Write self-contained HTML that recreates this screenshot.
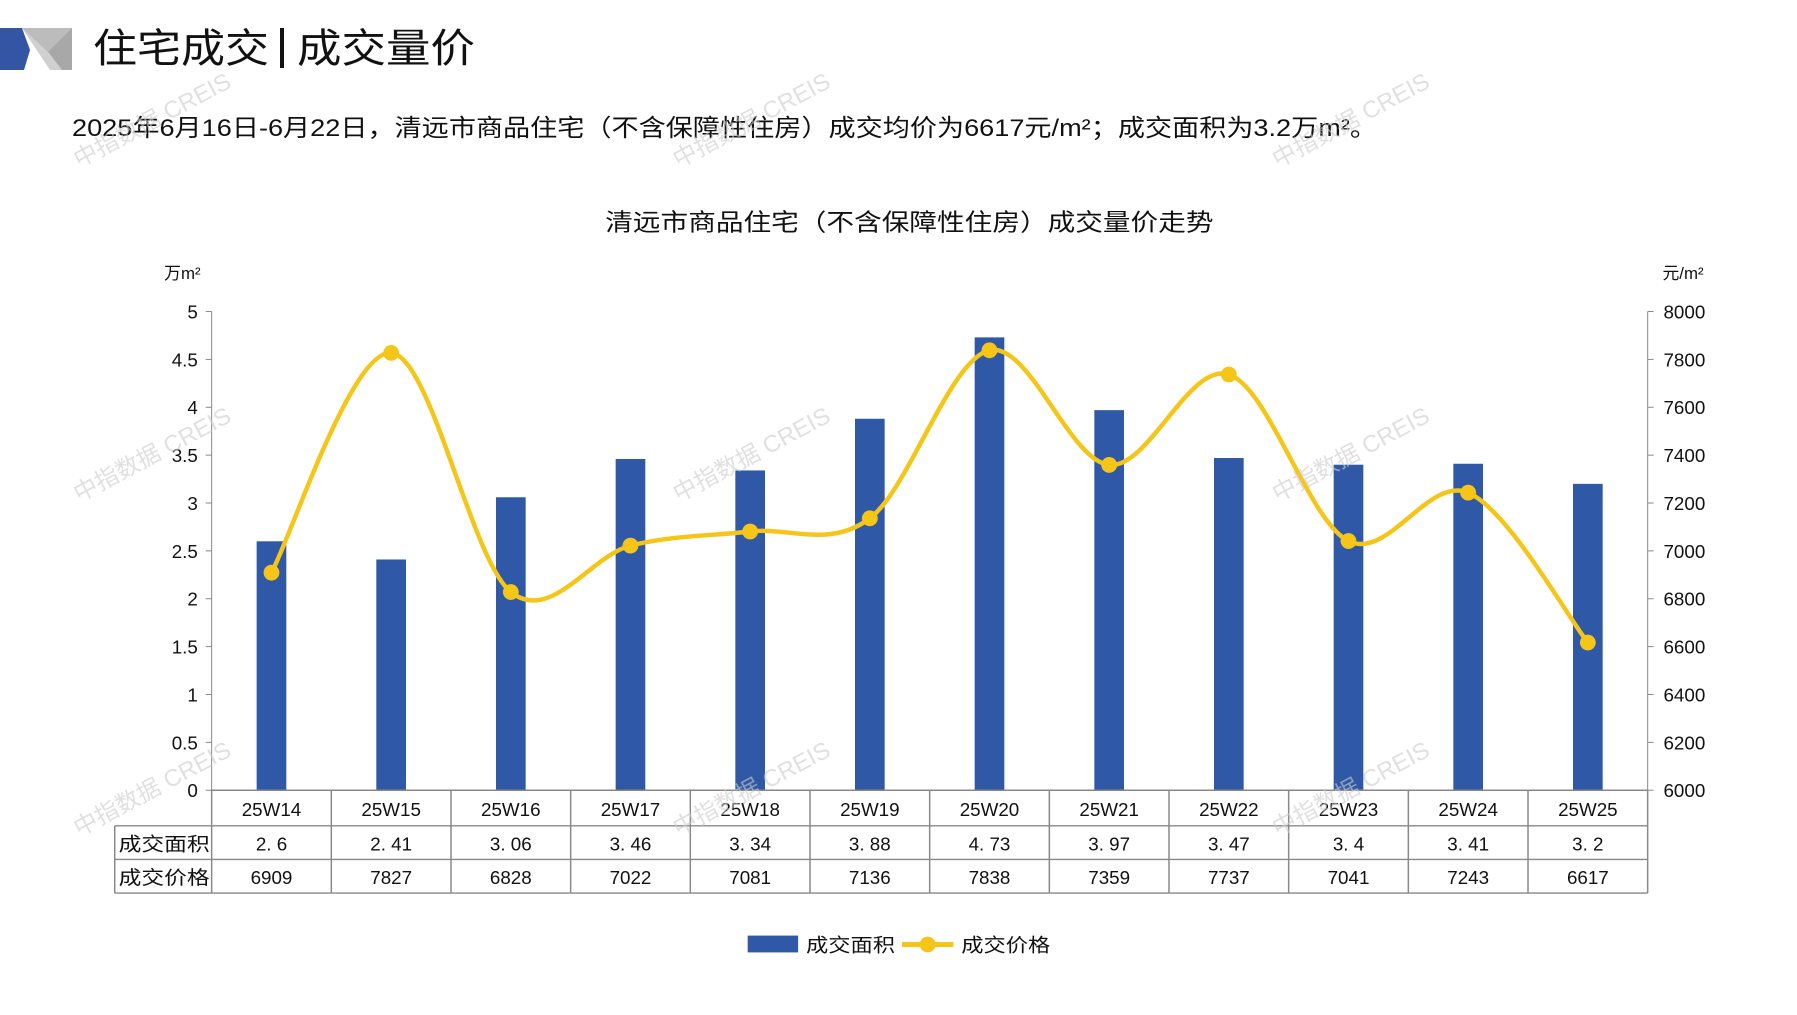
<!DOCTYPE html>
<html><head><meta charset="utf-8"><style>
body{margin:0;background:#fff;width:1797px;height:1010px;overflow:hidden}
svg text{font-family:"Liberation Sans","Noto Sans CJK SC",sans-serif}
</style></head><body>
<svg id="s" width="1797" height="1010" xmlns="http://www.w3.org/2000/svg">
<polygon points="0,28 22,28 30,50 24,70 0,70" fill="#3355a4"/>
<polygon points="22,28 72,28 72,70 50,70" fill="#d0d0d0"/>
<polygon points="30,28 72,28 72,70 62,70" fill="#a8a8a8"/>
<polygon points="22,28 72,28 48,52" fill="#bcbcbc"/>
<text x="93" y="62" font-size="40" fill="#111" textLength="176" lengthAdjust="spacingAndGlyphs">住宅成交</text>
<rect x="280" y="28" width="4" height="40" fill="#111"/>
<text x="297" y="62" font-size="40" fill="#111" textLength="178" lengthAdjust="spacingAndGlyphs">成交量价</text>
<text x="72" y="136" font-size="24" fill="#111" textLength="1305" lengthAdjust="spacingAndGlyphs">2025年6月16日-6月22日，清远市商品住宅（不含保障性住房）成交均价为6617元/m²；成交面积为3.2万m²。</text>
<g transform="scale(0.989)">
<text x="612" y="233" font-size="24" fill="#111" textLength="615" lengthAdjust="spacingAndGlyphs">清远市商品住宅（不含保障性住房）成交量价走势</text>
<text x="166" y="282" font-size="17" fill="#111">万m²</text>
<text x="1681" y="282" font-size="17" fill="#111">元/m²</text>
<g id="g"></g>
</g>
</svg>
<script>
const g=document.getElementById('g');let h='';
const L=214,R=1666,T=315,B=799,cw=(R-L)/12;
const area=[2.6,2.41,3.06,3.46,3.34,3.88,4.73,3.97,3.47,3.4,3.41,3.2];
const price=[6909,7827,6828,7022,7081,7136,7838,7359,7737,7041,7243,6617];
h+=`<line x1="${L}" y1="${T}" x2="${L}" y2="${B}" stroke="#888"/><line x1="${R}" y1="${T}" x2="${R}" y2="${B}" stroke="#888"/>`;
for(let i=0;i<=10;i++){let y=B-(B-T)*i/10;
h+=`<line x1="${L-6}" y1="${y}" x2="${L}" y2="${y}" stroke="#888"/><line x1="${R}" y1="${y}" x2="${R+6}" y2="${y}" stroke="#888"/>`;
h+=`<text x="${L-14}" y="${y+7}" font-size="19" text-anchor="end" fill="#111">${i*0.5}</text>`;
h+=`<text x="${R+16}" y="${y+7}" font-size="19" fill="#111">${6000+i*200}</text>`;}
const cx=i=>L+cw*(i+0.5);
area.forEach((v,i)=>{let y=B-v/5*(B-T);h+=`<rect x="${cx(i)-15}" y="${y}" width="30" height="${B-y}" fill="#2f59a6"/>`});
const py=p=>B-(p-6000)/2000*(B-T);
const P=price.map((p,i)=>[cx(i),py(p)]);
let d=`M${P[0][0]},${P[0][1]}`;
for(let i=0;i<P.length-1;i++){let p0=P[i-1]||P[i],p1=P[i],p2=P[i+1],p3=P[i+2]||p2;
d+=` C${p1[0]+(p2[0]-p0[0])/6},${p1[1]+(p2[1]-p0[1])/6} ${p2[0]-(p3[0]-p1[0])/6},${p2[1]-(p3[1]-p1[1])/6} ${p2[0]},${p2[1]}`;}
h+=`<path d="${d}" fill="none" stroke="#f5c518" stroke-width="4.5"/>`;
P.forEach(p=>h+=`<circle cx="${p[0]}" cy="${p[1]}" r="8" fill="#f5c518"/>`);
h+=`<g stroke="#888" stroke-width="1.5" fill="none"><line x1="${L}" y1="${B}" x2="${R}" y2="${B}"/><line x1="116" y1="835" x2="${R}" y2="835"/><line x1="116" y1="869" x2="${R}" y2="869"/><line x1="116" y1="903" x2="${R}" y2="903"/><line x1="116" y1="835" x2="116" y2="903"/>`;
for(let i=0;i<=12;i++)h+=`<line x1="${L+cw*i}" y1="${B}" x2="${L+cw*i}" y2="903"/>`;
h+=`</g>`;
area.forEach((v,i)=>{h+=`<text x="${cx(i)}" y="825" font-size="19" text-anchor="middle" fill="#111">25W${14+i}</text>`;
h+=`<text x="${cx(i)}" y="860" font-size="19" text-anchor="middle" fill="#111">${String(v).replace('.', '. ')}</text>`;
h+=`<text x="${cx(i)}" y="894" font-size="19" text-anchor="middle" fill="#111">${price[i]}</text>`;});
h+=`<text x="120" y="860" font-size="19" fill="#111" textLength="92" lengthAdjust="spacingAndGlyphs">成交面积</text><text x="120" y="894" font-size="19" fill="#111" textLength="92" lengthAdjust="spacingAndGlyphs">成交价格</text>`;
h+=`<rect x="756" y="946" width="51" height="17" fill="#2f59a6"/><text x="815" y="962" font-size="19" fill="#111" textLength="90" lengthAdjust="spacingAndGlyphs">成交面积</text>`;
h+=`<line x1="912" y1="955" x2="964" y2="955" stroke="#f5c518" stroke-width="5"/><circle cx="938" cy="955" r="8" fill="#f5c518"/><text x="972" y="962" font-size="19" fill="#111" textLength="90" lengthAdjust="spacingAndGlyphs">成交价格</text>`;
[[80,170],[686,170],[1292,170],[80,508],[686,508],[1292,508],[80,846],[686,846],[1292,846]].forEach(([x,y])=>h+=`<text x="${x}" y="${y}" font-size="24" fill="#ccc" opacity="0.6" transform="rotate(-28 ${x} ${y})">中指数据 CREIS</text>`);
g.innerHTML=h;
</script>
</body></html>
